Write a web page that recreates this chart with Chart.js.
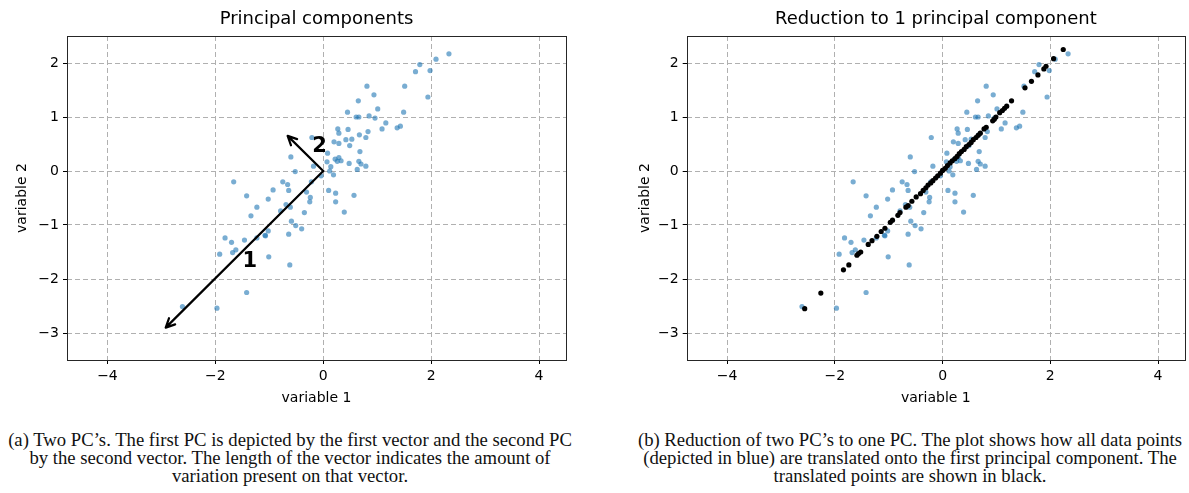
<!DOCTYPE html>
<html>
<head>
<meta charset="utf-8">
<script src="https://cdn.jsdelivr.net/npm/chart.js@4.4.1/dist/chart.umd.min.js"></script>
<style>
  body { margin: 0; background: #fff; width: 1189px; height: 493px; position: relative; overflow: hidden; }
  canvas { position: absolute; top: 0; }
  .cap { position: absolute; top: 431px; font-family: "Liberation Serif", serif; font-size: 18.7px; line-height: 18px; text-align: center; color: #111; }
</style>
</head>
<body>
<canvas id="pcs" width="600" height="415" style="left:0"></canvas>
<canvas id="reduced" width="589" height="415" style="left:600px"></canvas>
<div class="cap" style="left:0;width:580px">(a) Two PC’s. The first PC is depicted by the first vector and the second PC<br>by the second vector. The length of the vector indicates the amount of<br>variation present on that vector.</div>
<div class="cap" style="left:620px;width:580px">(b) Reduction of two PC’s to one PC. The plot shows how all data points<br>(depicted in blue) are translated onto the first principal component. The<br>translated points are shown in black.</div>
<script>
// Data points (variable 1, variable 2)
var blueX = [2.33, 2.09, 1.79, 1.71, 1.98, 0.81, 1.51, 0.94, 1.94, 0.65, 1.01, 0.45, 1.49, 0.61, 0.66, 0.85,
  0.96, 1.16, 1.09, 1.37, 1.43, 0.27, 0.46, 0.29, 0.83, 0.67, 0.79, -0.21, 0.20, 0.42, 0.53, 0.29,
  0.49, 0.68, 0.08, -0.60, 0.07, 0.22, 0.29, 0.33, 0.26, 0.48, 0.66, 0.70, 0.79, 0.63, 0.14, -0.18,
  -0.52, 0.12, 0.19, -0.04, -1.66, -0.75, -0.66, -0.22, -0.93, -0.64, 0.10, -0.31, 0.23, 0.57,
  -1.42, -0.24, -1.02, -0.25, 0.23, -1.23, -0.69, -0.61, -0.79, -0.35, 0.39, -1.34, -0.59, -0.51,
  -0.40, -1.02, -1.08, -1.07, -0.64, -1.82, -1.70, -1.46, -1.23, -1.62, -1.68, -1.92, -1.01, -0.62,
  -1.42, -2.61, -1.97];
var blueY = [2.17, 2.07, 1.97, 1.84, 1.86, 1.57, 1.57, 1.41, 1.37, 1.30, 1.15, 1.09, 1.09, 1.00, 1.00, 1.02,
  0.98, 0.89, 0.78, 0.80, 0.83, 0.78, 0.77, 0.70, 0.73, 0.67, 0.62, 0.62, 0.54, 0.58, 0.59, 0.51,
  0.47, 0.36, 0.33, 0.26, 0.17, 0.22, 0.25, 0.19, 0.18, 0.14, 0.18, 0.13, 0.09, 0.03, 0.08, 0.09,
  -0.01, 0.00, -0.07, -0.09, -0.20, -0.20, -0.25, -0.20, -0.35, -0.36, -0.36, -0.39, -0.41, -0.45,
  -0.46, -0.49, -0.52, -0.57, -0.57, -0.67, -0.62, -0.67, -0.74, -0.77, -0.76, -0.83, -0.93, -1.01,
  -1.07, -1.11, -1.19, -1.20, -1.17, -1.24, -1.32, -1.28, -1.24, -1.46, -1.51, -1.54, -1.59, -1.74,
  -2.25, -2.51, -2.54];

// Points after projection onto the first PC
var blackX = [2.24, 2.06, 1.92, 1.88, 1.77, 1.65, 1.53, 1.28, 1.19, 1.15, 1.11, 1.06, 0.99, 0.96, 0.93, 0.81,
  0.77, 0.70, 0.66, 0.62, 0.57, 0.53, 0.49, 0.44, 0.40, 0.35, 0.31, 0.27, 0.23, 0.18, 0.14, 0.09,
  0.05, 0.00, -0.04, -0.09, -0.13, -0.18, -0.22, -0.27, -0.31, -0.36, -0.41, -0.49, -0.57, -0.64,
  -0.68, -0.79, -0.83, -0.93, -0.97, -1.07, -1.14, -1.22, -1.31, -1.38, -1.52, -1.56, -1.59, -1.74,
  -1.84, -2.26, -2.56];
var blackY = [2.25, 2.08, 1.94, 1.89, 1.78, 1.66, 1.54, 1.30, 1.20, 1.16, 1.12, 1.08, 1.00, 0.96, 0.93, 0.81,
  0.78, 0.70, 0.66, 0.62, 0.58, 0.53, 0.49, 0.45, 0.40, 0.36, 0.32, 0.27, 0.23, 0.19, 0.15, 0.10,
  0.05, 0.01, -0.04, -0.09, -0.13, -0.18, -0.22, -0.26, -0.31, -0.36, -0.42, -0.48, -0.56, -0.64,
  -0.67, -0.77, -0.82, -0.91, -0.95, -1.06, -1.12, -1.21, -1.29, -1.36, -1.50, -1.53, -1.56, -1.74,
  -1.83, -2.26, -2.55];

// Principal component vectors (tip of each arrow, starting at the origin) and their labels
var pcNames = ['1', '2'];
var pcTipX = [-2.92, -0.66];
var pcTipY = [-2.90, 0.65];
var pcLabelX = [-1.36, -0.07];
var pcLabelY = [-1.68, 0.45];

var xTicks = [-4, -2, 0, 2, 4];
var yTicks = [-3, -2, -1, 0, 1, 2];

function toPoints(xs, ys) {
  return xs.map(function (x, i) { return { x: x, y: ys[i] }; });
}

function fmt(v) {
  return v < 0 ? '\u2212' + Math.abs(v) : String(v);
}

// box around the axes plus a title centred over them (like matplotlib)
var frame = {
  id: 'frame',
  afterDraw: function (chart, args, opts) {
    var a = chart.chartArea, ctx = chart.ctx;
    ctx.save();
    ctx.strokeStyle = '#262626';
    ctx.lineWidth = 1;
    ctx.strokeRect(Math.round(a.left) + 0.5, Math.round(a.top) + 0.5,
      Math.round(a.right - a.left), Math.round(a.bottom - a.top));
    ctx.fillStyle = '#000';
    ctx.font = '18px "DejaVu Sans"';
    ctx.textAlign = 'center';
    ctx.textBaseline = 'middle';
    ctx.fillText(opts.text, (a.left + a.right) / 2, 19);
    ctx.restore();
  }
};

var arrows = {
  id: 'arrows',
  afterDatasetsDraw: function (chart) {
    var xs = chart.scales.x, ys = chart.scales.y, ctx = chart.ctx;
    var ox = xs.getPixelForValue(0), oy = ys.getPixelForValue(0);
    ctx.save();
    ctx.strokeStyle = '#000';
    ctx.lineWidth = 2.2;
    ctx.lineCap = 'round';
    ctx.lineJoin = 'round';
    for (var i = 0; i < pcTipX.length; i++) {
      var tx = xs.getPixelForValue(pcTipX[i]), ty = ys.getPixelForValue(pcTipY[i]);
      var ang = Math.atan2(ty - oy, tx - ox);
      ctx.beginPath();
      ctx.moveTo(ox, oy);
      ctx.lineTo(tx, ty);
      ctx.moveTo(tx - 10 * Math.cos(ang - 0.45), ty - 10 * Math.sin(ang - 0.45));
      ctx.lineTo(tx, ty);
      ctx.lineTo(tx - 10 * Math.cos(ang + 0.45), ty - 10 * Math.sin(ang + 0.45));
      ctx.stroke();
      ctx.fillStyle = '#000';
      ctx.font = 'bold 21px "DejaVu Sans"';
      ctx.textAlign = 'center';
      ctx.textBaseline = 'middle';
      ctx.fillText(pcNames[i], xs.getPixelForValue(pcLabelX[i]), ys.getPixelForValue(pcLabelY[i]));
    }
    ctx.restore();
  }
};

function axis(ticks, min, max, title, extra) {
  var cfg = {
    type: 'linear',
    min: min,
    max: max,
    afterBuildTicks: function (s) { s.ticks = ticks.map(function (v) { return { value: v }; }); },
    grid: { color: '#b0b0b0', lineWidth: 1, tickColor: '#000', tickLength: 4, tickWidth: 1 },
    border: { display: false, dash: [5, 3] },
    ticks: { color: '#000', font: { family: 'DejaVu Sans', size: 14 }, padding: 4, callback: fmt },
    title: { display: true, text: title, color: '#000', font: { family: 'DejaVu Sans', size: 14 } }
  };
  return Object.assign(cfg, extra);
}

function makeChart(id, title, datasets, plugins, yWidth, yTitlePad, rightPad) {
  var xAxis = axis(xTicks, -4.75, 4.5, 'variable 1', {
    afterFit: function (s) { s.height = 55; }
  });
  xAxis.title.padding = { top: 0, bottom: 8 };
  var yAxis = axis(yTicks, -3.5, 2.5, 'variable 2', {
    afterFit: function (s) { s.width = yWidth; }
  });
  yAxis.title.padding = { top: yTitlePad, bottom: 0 };
  return new Chart(document.getElementById(id), {
    type: 'scatter',
    data: { datasets: datasets },
    options: {
      responsive: false,
      animation: false,
      layout: { padding: { left: 0, right: rightPad, top: 36, bottom: 0 } },
      plugins: {
        legend: { display: false },
        tooltip: { enabled: false },
        title: { display: false },
        frame: { text: title }
      },
      scales: { x: xAxis, y: yAxis }
    },
    plugins: [frame].concat(plugins)
  });
}

var blueSet = {
  label: 'data',
  data: toPoints(blueX, blueY),
  backgroundColor: 'rgba(31,119,180,0.6)',
  borderWidth: 0,
  pointRadius: 2.6
};

makeChart('pcs', 'Principal components', [blueSet], [arrows], 67, 14, 34);

makeChart('reduced', 'Reduction to 1 principal component', [
  {
    label: 'projected',
    data: toPoints(blackX, blackY),
    backgroundColor: '#000',
    borderWidth: 0,
    pointRadius: 2.6
  },
  Object.assign({}, blueSet)
], [], 86.7, 37, 4);
</script>
</body>
</html>
